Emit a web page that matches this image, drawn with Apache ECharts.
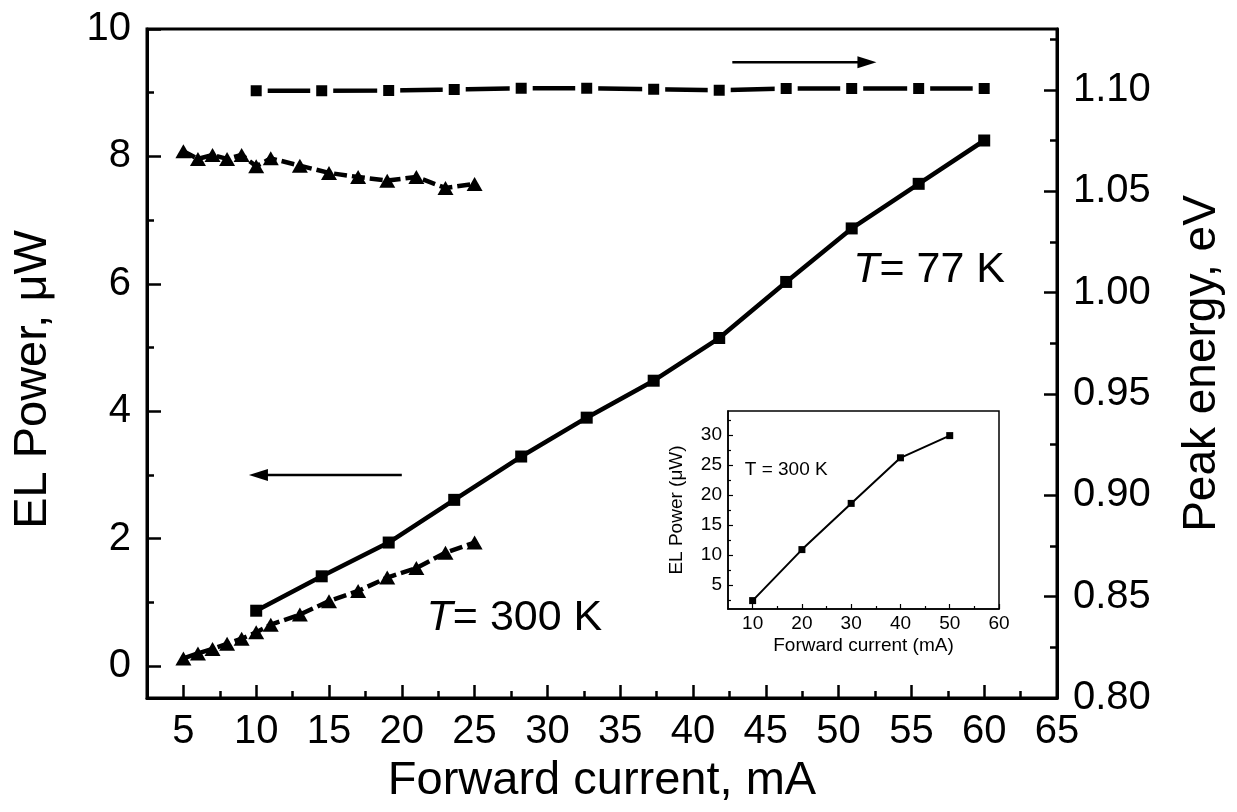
<!DOCTYPE html>
<html>
<head>
<meta charset="utf-8">
<script src="https://cdn.jsdelivr.net/npm/echarts@6/dist/echarts.min.js"></script>
<style>
  html, body { margin: 0; padding: 0; background: #fff; }
  #chart { width: 1237px; height: 812px; }
</style>
</head>
<body>
<div id="chart"></div>
<script>
// ---- data: forward current (mA), EL power (uW), peak energy (eV) ----
const current77K = [10, 14.5, 19.1, 23.6, 28.2, 32.7, 37.3, 41.8, 46.4, 50.9, 55.5, 60];
const power77K = [0.87, 1.41, 1.94, 2.61, 3.29, 3.90, 4.48, 5.15, 6.03, 6.87, 7.57, 8.25];
const energy77K = [1.0995, 1.0995, 1.0997, 1.1002, 1.1008, 1.1008, 1.1003, 1.0998, 1.1006, 1.1007, 1.1007, 1.1007];

const current300K = [5, 6, 7, 8, 9, 10, 11, 13, 15, 17, 19, 21, 23, 25];
const power300K = [0.12, 0.20, 0.27, 0.35, 0.43, 0.53, 0.65, 0.81, 1.02, 1.18, 1.39, 1.54, 1.78, 1.94];
const energy300K = [1.0697, 1.0659, 1.0679, 1.0659, 1.0679, 1.0623, 1.0662, 1.0626, 1.0590, 1.0570, 1.0552, 1.0570, 1.0516, 1.0536];

// inset: 300 K, wider current range
const insetCurrent = [10, 20, 30, 40, 50];
const insetPower = [2.4, 10.9, 18.6, 26.2, 29.9];

// ---- tick positions ----
const xTicks = [5, 10, 15, 20, 25, 30, 35, 40, 45, 50, 55, 60, 65];
const xMinorTicks = [7.5, 12.5, 17.5, 22.5, 27.5, 32.5, 37.5, 42.5, 47.5, 52.5, 57.5, 62.5];
const powerTicks = [0, 2, 4, 6, 8, 10];
const powerMinorTicks = [1, 3, 5, 7, 9];
const energyTicks = [0.80, 0.85, 0.90, 0.95, 1.00, 1.05, 1.10];
const energyMinorTicks = [0.825, 0.875, 0.925, 0.975, 1.025, 1.075, 1.125];
const insetXTicks = [10, 20, 30, 40, 50, 60];
const insetXMinorTicks = [15, 25, 35, 45, 55];
const insetYTicks = [5, 10, 15, 20, 25, 30];
const insetYMinorTicks = [2.5, 7.5, 12.5, 17.5, 22.5, 27.5, 32.5];

const FONT = '"Liberation Sans", Arial, sans-serif';
const BLACK = '#000';

const zip = (xs, ys) => xs.map((x, i) => [x, ys[i]]);

// axis carrying the major ticks, labels and title
function majorAxis(o) {
  return {
    type: 'value',
    gridIndex: o.grid,
    position: o.position,
    min: o.min,
    max: o.max,
    name: o.name,
    nameLocation: 'middle',
    nameGap: o.nameGap,
    nameTextStyle: { fontFamily: FONT, fontSize: o.nameSize, color: BLACK, padding: o.namePadding || 0 },
    axisLine: { show: true, onZero: false, lineStyle: { color: BLACK, width: o.lineWidth } },
    axisTick: {
      show: true, inside: true, length: o.tickLen, customValues: o.ticks,
      lineStyle: { color: BLACK, width: o.tickWidth }
    },
    axisLabel: {
      show: true, customValues: o.ticks, margin: o.labelMargin,
      fontFamily: FONT, fontSize: o.labelSize, color: BLACK,
      formatter: o.formatter
    },
    splitLine: { show: false },
    minorTick: { show: false },
    minorSplitLine: { show: false }
  };
}

// overlay axis drawing only the short intermediate ticks
function minorAxis(o) {
  return {
    type: 'value',
    gridIndex: o.grid,
    position: o.position,
    min: o.min,
    max: o.max,
    axisLine: { show: false, onZero: false },
    axisTick: {
      show: true, inside: true, length: o.tickLen, customValues: o.ticks,
      lineStyle: { color: BLACK, width: o.tickWidth }
    },
    axisLabel: { show: false },
    splitLine: { show: false }
  };
}

const chart = echarts.init(document.getElementById('chart'), null, { renderer: 'canvas' });

const triangleStyle = {
  symbol: 'triangle', symbolSize: [16, 14], showAllSymbol: true,
  lineStyle: { color: BLACK, width: 4.5, type: [13, 5] },
  itemStyle: { color: BLACK }, z: 3
};

const option = {
  animation: false,
  backgroundColor: '#fff',
  textStyle: { fontFamily: FONT, color: BLACK },
  grid: [
    { left: 147, top: 29, width: 910, height: 669, show: true, borderColor: BLACK, borderWidth: 3,
      backgroundColor: 'transparent', containLabel: false, outerBoundsMode: 'none' },
    { left: 728, top: 411, width: 271, height: 198, show: true, borderColor: BLACK, borderWidth: 1.5,
      backgroundColor: '#fff', containLabel: false, outerBoundsMode: 'none' }
  ],
  xAxis: [
    majorAxis({ grid: 0, position: 'bottom', min: 2.5, max: 65, ticks: xTicks,
      name: 'Forward current, mA', nameGap: 60, nameSize: 47, lineWidth: 3,
      tickLen: 13, tickWidth: 2.5, labelMargin: 14, labelSize: 40 }),
    minorAxis({ grid: 0, position: 'bottom', min: 2.5, max: 65, ticks: xMinorTicks, tickLen: 7, tickWidth: 2.5 }),
    majorAxis({ grid: 1, position: 'bottom', min: 5, max: 60, ticks: insetXTicks,
      name: 'Forward current (mA)', nameGap: 27, nameSize: 19, lineWidth: 1.5,
      tickLen: 5, tickWidth: 1.2, labelMargin: 5, labelSize: 19 }),
    minorAxis({ grid: 1, position: 'bottom', min: 5, max: 60, ticks: insetXMinorTicks, tickLen: 3, tickWidth: 1.2 })
  ],
  yAxis: [
    majorAxis({ grid: 0, position: 'left', min: -0.5, max: 10, ticks: powerTicks,
      name: 'EL Power, \u03bcW', nameGap: 90, nameSize: 47, namePadding: [0, 32, 0, 0], lineWidth: 3,
      tickLen: 14, tickWidth: 2.5, labelMargin: 16, labelSize: 40 }),
    minorAxis({ grid: 0, position: 'left', min: -0.5, max: 10, ticks: powerMinorTicks, tickLen: 7, tickWidth: 2.5 }),
    majorAxis({ grid: 0, position: 'right', min: 0.8, max: 1.13, ticks: energyTicks,
      name: 'Peak energy, eV', nameGap: 122, nameSize: 46, lineWidth: 3,
      tickLen: 13, tickWidth: 2.5, labelMargin: 16, labelSize: 40,
      formatter: (v) => Number(v).toFixed(2) }),
    minorAxis({ grid: 0, position: 'right', min: 0.8, max: 1.13, ticks: energyMinorTicks, tickLen: 7, tickWidth: 2.5 }),
    majorAxis({ grid: 1, position: 'left', min: 1, max: 34, ticks: insetYTicks,
      name: 'EL Power (\u03bcW)', nameGap: 42, nameSize: 19, lineWidth: 1.5,
      tickLen: 5, tickWidth: 1.2, labelMargin: 6, labelSize: 19 }),
    minorAxis({ grid: 1, position: 'left', min: 1, max: 34, ticks: insetYMinorTicks, tickLen: 3, tickWidth: 1.2 })
  ],
  series: [
    {
      name: 'EL power 77 K', type: 'line', xAxisIndex: 0, yAxisIndex: 0,
      data: zip(current77K, power77K),
      symbol: 'rect', symbolSize: 12, showAllSymbol: true,
      lineStyle: { color: BLACK, width: 4.5 },
      itemStyle: { color: BLACK }, z: 3
    },
    {
      name: 'Peak energy 77 K', type: 'line', xAxisIndex: 0, yAxisIndex: 2,
      data: zip(current77K, energy77K),
      symbol: 'rect', symbolSize: 17, showAllSymbol: true,
      lineStyle: { color: BLACK, width: 4.5 },
      itemStyle: { color: BLACK, borderColor: '#fff', borderWidth: 6 }, z: 3
    },
    Object.assign({
      name: 'EL power 300 K', type: 'line', xAxisIndex: 0, yAxisIndex: 0,
      data: zip(current300K, power300K)
    }, triangleStyle),
    Object.assign({
      name: 'Peak energy 300 K', type: 'line', xAxisIndex: 0, yAxisIndex: 2,
      data: zip(current300K, energy300K)
    }, triangleStyle),
    {
      name: 'EL power 300 K (inset)', type: 'line', xAxisIndex: 2, yAxisIndex: 4,
      data: zip(insetCurrent, insetPower),
      symbol: 'rect', symbolSize: 7, showAllSymbol: true,
      lineStyle: { color: BLACK, width: 2 },
      itemStyle: { color: BLACK }, z: 4
    }
  ]
};

chart.setOption(option);

// ---- annotations placed in data coordinates ----
const toPx = (xi, yi, pt) => chart.convertToPixel({ xAxisIndex: xi, yAxisIndex: yi }, pt);

function arrow(from, to) {
  const dir = Math.sign(to[0] - from[0]);
  const headLen = 19, halfW = 6;
  const base = [to[0] - dir * headLen, to[1]];
  return [
    { type: 'polyline', silent: true, z: 10,
      shape: { points: [from, [base[0] + dir * 2, base[1]]] },
      style: { stroke: BLACK, lineWidth: 2.5, fill: null } },
    { type: 'polygon', silent: true, z: 10,
      shape: { points: [to, [base[0], base[1] - halfW], [base[0], base[1] + halfW]] },
      style: { fill: BLACK, stroke: null } }
  ];
}

const graphics = [];
// arrow pointing to the power axis
graphics.push(...arrow(toPx(0, 0, [20, 3]), toPx(0, 0, [9.5, 3])));
// arrow pointing to the energy axis
graphics.push(...arrow(toPx(0, 2, [42.7, 1.1136]), toPx(0, 2, [52.6, 1.1136])));

function tempLabel(pt, value) {
  return {
    type: 'text', silent: true, z: 10, x: pt[0], y: pt[1],
    style: {
      text: '{it|T}= ' + value, fontFamily: FONT, fontSize: 43, fill: BLACK,
      align: 'left', verticalAlign: 'middle',
      rich: { it: { fontFamily: FONT, fontSize: 43, fontStyle: 'italic', fill: BLACK } }
    }
  };
}
graphics.push(tempLabel(toPx(0, 0, [51.0, 6.21]), '77 K'));
graphics.push(tempLabel(toPx(0, 0, [21.7, 0.75]), '300 K'));

const pIn = toPx(2, 4, [8.4, 24.2]);
graphics.push({
  type: 'text', silent: true, z: 10, x: pIn[0], y: pIn[1],
  style: {
    text: 'T = 300 K', fontFamily: FONT, fontSize: 19, fill: BLACK,
    align: 'left', verticalAlign: 'middle'
  }
});

chart.setOption({ graphic: graphics });
</script>
</body>
</html>
